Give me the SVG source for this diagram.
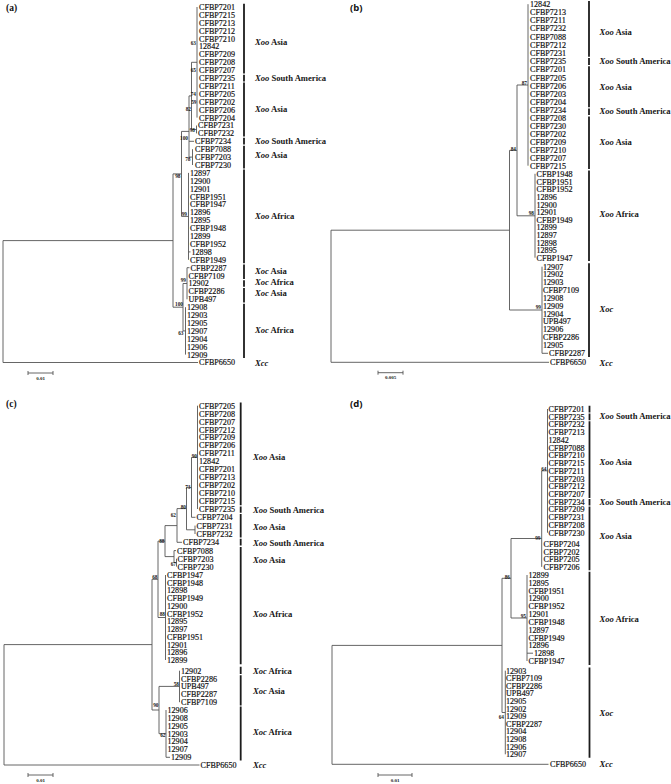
<svg xmlns="http://www.w3.org/2000/svg" width="671" height="784" viewBox="0 0 671 784">
<style>
.t{font-family:"Liberation Serif",serif;font-size:8.1px;fill:#111;stroke:#111;stroke-width:0.18}
.b{font-family:"Liberation Serif",serif;font-size:5.3px;font-weight:bold;fill:#161616;text-anchor:end}
.s{font-family:"Liberation Serif",serif;font-size:8.6px;font-weight:bold;fill:#161616}
.i{font-style:italic}
.l{stroke:#555;stroke-width:0.9;fill:none}
.bar{stroke:#1c1c1c;stroke-width:1.8;fill:none}
.pa{font-family:"Liberation Serif",serif;font-size:9.5px;font-weight:bold;fill:#111}
.pb{font-family:"Open Sans",sans-serif;font-size:9.5px;font-weight:bold;fill:#111}
.sc{font-family:"Liberation Serif",serif;font-size:5px;font-weight:bold;fill:#222;text-anchor:middle}
</style>
<rect width="671" height="784" fill="#fff"/>

<text class="pa" x="6" y="11">(a)</text>
<text class="pb" x="350" y="11">(b)</text>
<text class="pa" x="6" y="407">(c)</text>
<text class="pb" x="350" y="407">(d)</text>

<g id="connectors">
<path class="l" d="M3 240.6V362.5M3 240.6H173M3 362.5H198
M173 173.9V307.2M173 173.9H181.5M181.5 131.4V216.4
M181.5 131.4H189M189 95.9V157.1M189 141.3H194
M189 95.9H191.5M191.5 62.3V129.5M191.5 62.3H197M197 7V117.6M191.5 129.5H196.5M196.5 125.5V133.4
M189 157.1H192.5M192.5 149.2V165
M181.5 216.4H188.5M188.5 172.9V259.8M188.5 251.9H190.5
M173 307.2H183M183 283.5V330.9M183 283.5H187M187 267.7V299.3M187 267.7H189.5M183 330.9H185.5M185.5 307.2V354.6"/>
<path class="l" d="M331 230.2V362.3M331 230.2H509.5M331 362.3H549
M509.5 150.4V310M509.5 150.4H517M517 85V215.8
M517 85H528M528 4.2V165.7
M517 215.8H535M535 173.8V257.7
M509.5 310H542M542 266.7V353.3M542 353.3H548"/>
<path class="l" d="M4 644.6V765M4 644.6H152M4 765H199.5
M152 579.3V710
M152 579.3H158M158 541.1V617.5
M158 541.1H165M165 525.6V556.6
M165 525.6H177M177 508.6V542.3M177 542.3H182
M177 508.6H186.5M186.5 487.4V529.8
M186.5 487.4H191.5M191.5 457.4V517.3M191.5 517.3H195.5
M191.5 457.4H197.5M197.5 405.7V509
M186.5 529.8H195M195 525.6V534
M165 556.6H174M174 550.6V562.6M174 550.6H176M174 562.6H176.5M176.5 558.7V566.6
M158 617.5H165.5M165.5 575V660
M152 710H159M159 686.4V733.7
M159 686.4H179.5M179.5 670.7V702.2
M159 733.7H166M166 710V757.3M166 757.3H170"/>
<path class="l" d="M332 645.4V764.3M332 645.4H502M332 764.3H548.5
M502 578.3V712.5
M502 578.3H511M511 538.5V618
M511 538.5H541.7M541.7 470.8V566.9
M541.7 470.8H547.5M547.5 409V532.7
M511 618H527M527 575V661M527 653.2H533
M502 712.5H505.3M505.3 670.7V754.3"/>
<path class="l" d="M28 373H53M28 371V375M53 371V375
M378 372.7H403M378 370.7V374.7M403 370.7V374.7
M28 775H53M28 773V777M53 773V777
M378 775H412M378 773V777M412 773V777"/>
</g>

<g id="scales">
<text class="sc" x="40.5" y="379.5">0.01</text>
<text class="sc" x="390.5" y="378.5">0.005</text>
<text class="sc" x="40.5" y="781.5">0.01</text>
<text class="sc" x="395" y="781.5">0.01</text>
</g>

<g id="bootstrap">
<text class="b" x="196" y="45.3">63</text>
<text class="b" x="196" y="72">65</text>
<text class="b" x="196" y="96.3">74</text>
<text class="b" x="196.5" y="104.3">59</text>
<text class="b" x="191" y="111">82</text>
<text class="b" x="195" y="132">98</text>
<text class="b" x="188" y="139.7">100</text>
<text class="b" x="190.5" y="161">78</text>
<text class="b" x="180.5" y="177.7">98</text>
<text class="b" x="187" y="216">99</text>
<text class="b" x="186" y="282">99</text>
<text class="b" x="183" y="306">100</text>
<text class="b" x="183.5" y="335">63</text>
<text class="b" x="527" y="85">87</text>
<text class="b" x="516" y="151">84</text>
<text class="b" x="534" y="215">98</text>
<text class="b" x="541" y="309">99</text>
<text class="b" x="197" y="458">90</text>
<text class="b" x="190.5" y="488.7">73</text>
<text class="b" x="186" y="509.3">80</text>
<text class="b" x="176" y="517">62</text>
<text class="b" x="164.5" y="543">88</text>
<text class="b" x="176" y="565.8">67</text>
<text class="b" x="157.5" y="579">68</text>
<text class="b" x="165" y="616">88</text>
<text class="b" x="158.5" y="707">90</text>
<text class="b" x="179" y="686">58</text>
<text class="b" x="165.5" y="737">62</text>
<text class="b" x="546.5" y="471">64</text>
<text class="b" x="540.5" y="539.5">99</text>
<text class="b" x="526" y="617.7">95</text>
<text class="b" x="510" y="579">86</text>
<text class="b" x="504" y="718.7">64</text>
</g>

<g id="a-xoo-asia">
<text class="t" x="199" y="9.9">CFBP7201</text>
<text class="t" x="199" y="17.8">CFBP7215</text>
<text class="t" x="199" y="25.7">CFBP7213</text>
<text class="t" x="199" y="33.6">CFBP7212</text>
<text class="t" x="199" y="41.5">CFBP7210</text>
<text class="t" x="199" y="49.4">12842</text>
<text class="t" x="199" y="57.3">CFBP7209</text>
<text class="t" x="199" y="65.2">CFBP7208</text>
<text class="t" x="199" y="73.1">CFBP7207</text>
<text class="t" x="199" y="81">CFBP7235</text>
<text class="t" x="199" y="88.9">CFBP7211</text>
<text class="t" x="199" y="96.8">CFBP7205</text>
<text class="t" x="199" y="104.7">CFBP7202</text>
<text class="t" x="199" y="112.6">CFBP7206</text>
<text class="t" x="199" y="120.5">CFBP7204</text>
<text class="t" x="198" y="128.4">CFBP7231</text>
<text class="t" x="198" y="136.3">CFBP7232</text>
<text class="t" x="195" y="144.2">CFBP7234</text>
<text class="t" x="195" y="152.1">CFBP7088</text>
<text class="t" x="195" y="160">CFBP7203</text>
<text class="t" x="195" y="167.9">CFBP7230</text>
</g>
<g id="a-xoo-africa">
<text class="t" x="190" y="175.8">12897</text>
<text class="t" x="190" y="183.7">12900</text>
<text class="t" x="190" y="191.6">12901</text>
<text class="t" x="190" y="199.5">CFBP1951</text>
<text class="t" x="190" y="207.4">CFBP1947</text>
<text class="t" x="190" y="215.3">12896</text>
<text class="t" x="190" y="223.2">12895</text>
<text class="t" x="190" y="231.1">CFBP1948</text>
<text class="t" x="190" y="239">12899</text>
<text class="t" x="190" y="246.9">CFBP1952</text>
<text class="t" x="191.5" y="254.8">12898</text>
<text class="t" x="190" y="262.7">CFBP1949</text>
</g>
<g id="a-xoc">
<text class="t" x="190.5" y="270.6">CFBP2287</text>
<text class="t" x="188.5" y="278.5">CFBP7109</text>
<text class="t" x="188.5" y="286.4">12902</text>
<text class="t" x="188.5" y="294.3">CFBP2286</text>
<text class="t" x="188.5" y="302.2">UPB497</text>
<text class="t" x="187" y="310.1">12908</text>
<text class="t" x="187" y="318">12903</text>
<text class="t" x="187" y="325.9">12905</text>
<text class="t" x="187" y="333.8">12907</text>
<text class="t" x="187" y="341.7">12904</text>
<text class="t" x="187" y="349.6">12906</text>
<text class="t" x="187" y="357.5">12909</text>
</g>
<g id="a-xcc"><text class="t" x="199" y="365.4">CFBP6650</text></g>
<g id="a-groups">
<path class="bar" d="M244 3.7V73.6M244 74.8V81.4M244 82.6V136.6M244 137.8V144.6M244 145.8V168.4M244 169.6V263.2M244 264.4V279M244 280.2V286.8M244 288V302.6M244 303.8V358"/>
<text class="s" x="255" y="45"><tspan class="i">Xoo</tspan> Asia</text>
<text class="s" x="255" y="81"><tspan class="i">Xoo</tspan> South America</text>
<text class="s" x="255" y="112"><tspan class="i">Xoo</tspan> Asia</text>
<text class="s" x="255" y="144"><tspan class="i">Xoo</tspan> South America</text>
<text class="s" x="255" y="158"><tspan class="i">Xoo</tspan> Asia</text>
<text class="s" x="255" y="219"><tspan class="i">Xoo</tspan> Africa</text>
<text class="s" x="255" y="274"><tspan class="i">Xoc</tspan> Asia</text>
<text class="s" x="255" y="285"><tspan class="i">Xoc</tspan> Africa</text>
<text class="s" x="255" y="296"><tspan class="i">Xoc</tspan> Asia</text>
<text class="s" x="255" y="333"><tspan class="i">Xoc</tspan> Africa</text>
<text class="s i" x="255" y="366">Xcc</text>
</g>

<g id="b-xoo-asia">
<text class="t" x="530" y="7.1">12842</text>
<text class="t" x="530" y="15.2">CFBP7213</text>
<text class="t" x="530" y="23.2">CFBP7211</text>
<text class="t" x="530" y="31.3">CFBP7232</text>
<text class="t" x="530" y="39.5">CFBP7088</text>
<text class="t" x="530" y="47.7">CFBP7212</text>
<text class="t" x="530" y="55.9">CFBP7231</text>
<text class="t" x="530" y="64.1">CFBP7235</text>
<text class="t" x="530" y="72.3">CFBP7201</text>
<text class="t" x="530" y="80.5">CFBP7205</text>
<text class="t" x="530" y="88.7">CFBP7206</text>
<text class="t" x="530" y="96.9">CFBP7203</text>
<text class="t" x="530" y="105">CFBP7204</text>
<text class="t" x="530" y="113.1">CFBP7234</text>
<text class="t" x="530" y="121.2">CFBP7208</text>
<text class="t" x="530" y="129.2">CFBP7230</text>
<text class="t" x="530" y="137.2">CFBP7202</text>
<text class="t" x="530" y="145.1">CFBP7209</text>
<text class="t" x="530" y="153">CFBP7210</text>
<text class="t" x="530" y="160.8">CFBP7207</text>
<text class="t" x="530" y="168.6">CFBP7215</text>
</g>
<g id="b-xoo-africa">
<text class="t" x="536.5" y="176.7">CFBP1948</text>
<text class="t" x="536.5" y="184.5">CFBP1951</text>
<text class="t" x="536.5" y="192.2">CFBP1952</text>
<text class="t" x="536.5" y="199.8">12896</text>
<text class="t" x="536.5" y="207.5">12900</text>
<text class="t" x="536.5" y="215.2">12901</text>
<text class="t" x="536.5" y="222.8">CFBP1949</text>
<text class="t" x="536.5" y="230.4">12899</text>
<text class="t" x="536.5" y="237.9">12897</text>
<text class="t" x="536.5" y="245.5">12898</text>
<text class="t" x="536.5" y="253">12895</text>
<text class="t" x="536.5" y="260.6">CFBP1947</text>
</g>
<g id="b-xoc">
<text class="t" x="543" y="269.6">12907</text>
<text class="t" x="543" y="277.4">12902</text>
<text class="t" x="543" y="285.2">12903</text>
<text class="t" x="543" y="293">CFBP7109</text>
<text class="t" x="543" y="300.9">12908</text>
<text class="t" x="543" y="308.7">12909</text>
<text class="t" x="543" y="316.5">12904</text>
<text class="t" x="543" y="324.4">UPB497</text>
<text class="t" x="543" y="332.3">12906</text>
<text class="t" x="543" y="340.2">CFBP2286</text>
<text class="t" x="543" y="348.2">12905</text>
<text class="t" x="549" y="356.2">CFBP2287</text>
</g>
<g id="b-xcc"><text class="t" x="550" y="365.2">CFBP6650</text></g>
<g id="b-groups">
<path class="bar" d="M589 1V56.8M589 58V64.9M589 66.2V107.2M589 108.4V115M589 116.4V169M589 170.6V261M589 263.2V357"/>
<text class="s" x="599.5" y="35.3"><tspan class="i">Xoo</tspan> Asia</text>
<text class="s" x="599.5" y="64"><tspan class="i">Xoo</tspan> South America</text>
<text class="s" x="599.5" y="90.3"><tspan class="i">Xoo</tspan> Asia</text>
<text class="s" x="599.5" y="114"><tspan class="i">Xoo</tspan> South America</text>
<text class="s" x="599.5" y="144.7"><tspan class="i">Xoo</tspan> Asia</text>
<text class="s" x="599.5" y="217"><tspan class="i">Xoo</tspan> Africa</text>
<text class="s i" x="599.5" y="312">Xoc</text>
<text class="s i" x="599.5" y="366">Xcc</text>
</g>

<g id="c-xoo-asia">
<text class="t" x="199" y="408.6">CFBP7205</text>
<text class="t" x="199" y="416.6">CFBP7208</text>
<text class="t" x="199" y="424.5">CFBP7207</text>
<text class="t" x="199" y="432.5">CFBP7212</text>
<text class="t" x="199" y="440.4">CFBP7209</text>
<text class="t" x="199" y="448.4">CFBP7206</text>
<text class="t" x="199" y="456.3">CFBP7211</text>
<text class="t" x="199" y="464.3">12842</text>
<text class="t" x="199" y="472.2">CFBP7201</text>
<text class="t" x="199" y="480.2">CFBP7213</text>
<text class="t" x="199" y="488.1">CFBP7202</text>
<text class="t" x="199" y="496.1">CFBP7210</text>
<text class="t" x="199" y="504">CFBP7215</text>
<text class="t" x="199" y="512">CFBP7235</text>
<text class="t" x="196.5" y="520.2">CFBP7204</text>
<text class="t" x="196.5" y="528.5">CFBP7231</text>
<text class="t" x="196.5" y="536.9">CFBP7232</text>
<text class="t" x="183" y="545.2">CFBP7234</text>
<text class="t" x="177" y="553.5">CFBP7088</text>
<text class="t" x="177.5" y="561.6">CFBP7203</text>
<text class="t" x="177.5" y="569.5">CFBP7230</text>
</g>
<g id="c-xoo-africa">
<text class="t" x="167" y="577.9">CFBP1947</text>
<text class="t" x="167" y="585.6">CFBP1948</text>
<text class="t" x="167" y="593.4">12898</text>
<text class="t" x="167" y="601.1">CFBP1949</text>
<text class="t" x="167" y="608.8">12900</text>
<text class="t" x="167" y="616.6">CFBP1952</text>
<text class="t" x="167" y="624.3">12895</text>
<text class="t" x="167" y="632">12897</text>
<text class="t" x="167" y="639.7">CFBP1951</text>
<text class="t" x="167" y="647.5">12901</text>
<text class="t" x="167" y="655.2">12896</text>
<text class="t" x="167" y="662.9">12899</text>
</g>
<g id="c-xoc">
<text class="t" x="181" y="673.6">12902</text>
<text class="t" x="181" y="681.5">CFBP2286</text>
<text class="t" x="181" y="689.3">UPB497</text>
<text class="t" x="181" y="697.2">CFBP2287</text>
<text class="t" x="181" y="705.1">CFBP7109</text>
<text class="t" x="167.5" y="713">12906</text>
<text class="t" x="167.5" y="720.8">12908</text>
<text class="t" x="167.5" y="728.7">12905</text>
<text class="t" x="167.5" y="736.6">12903</text>
<text class="t" x="167.5" y="744.4">12904</text>
<text class="t" x="167.5" y="752.3">12907</text>
<text class="t" x="171" y="760.2">12909</text>
</g>
<g id="c-xcc"><text class="t" x="200.5" y="767.9">CFBP6650</text></g>
<g id="c-groups">
<path class="bar" d="M240.7 402.5V505.2M240.7 506.4V512.8M240.7 514V537.6M240.7 538.8V545.6M240.7 547V664.2M240.7 666.8V674M240.7 675.2V705.4M240.7 706.6V760.6"/>
<text class="s" x="253" y="460"><tspan class="i">Xoo</tspan> Asia</text>
<text class="s" x="253" y="513"><tspan class="i">Xoo</tspan> South America</text>
<text class="s" x="253" y="530"><tspan class="i">Xoo</tspan> Asia</text>
<text class="s" x="253" y="546"><tspan class="i">Xoo</tspan> South America</text>
<text class="s" x="253" y="563"><tspan class="i">Xoo</tspan> Asia</text>
<text class="s" x="253" y="617.3"><tspan class="i">Xoo</tspan> Africa</text>
<text class="s" x="253" y="673.7"><tspan class="i">Xoc</tspan> Africa</text>
<text class="s" x="253" y="693.7"><tspan class="i">Xoc</tspan> Asia</text>
<text class="s" x="253" y="734.7"><tspan class="i">Xoc</tspan> Africa</text>
<text class="s i" x="253" y="768">Xcc</text>
</g>

<g id="d-xoo-asia">
<text class="t" x="548.5" y="411.9">CFBP7201</text>
<text class="t" x="548.5" y="419.6">CFBP7235</text>
<text class="t" x="548.5" y="427.4">CFBP7232</text>
<text class="t" x="548.5" y="435.1">CFBP7213</text>
<text class="t" x="548.5" y="442.8">12842</text>
<text class="t" x="548.5" y="450.6">CFBP7088</text>
<text class="t" x="548.5" y="458.3">CFBP7210</text>
<text class="t" x="548.5" y="466">CFBP7215</text>
<text class="t" x="548.5" y="473.7">CFBP7211</text>
<text class="t" x="548.5" y="481.5">CFBP7203</text>
<text class="t" x="548.5" y="489.2">CFBP7212</text>
<text class="t" x="548.5" y="496.9">CFBP7207</text>
<text class="t" x="548.5" y="504.7">CFBP7234</text>
<text class="t" x="548.5" y="512.4">CFBP7209</text>
<text class="t" x="548.5" y="520.1">CFBP7231</text>
<text class="t" x="548.5" y="527.9">CFBP7208</text>
<text class="t" x="548.5" y="535.6">CFBP7230</text>
<text class="t" x="543.5" y="546.9">CFBP7204</text>
<text class="t" x="543.5" y="554.6">CFBP7202</text>
<text class="t" x="543.5" y="562.2">CFBP7205</text>
<text class="t" x="543.5" y="569.8">CFBP7206</text>
</g>
<g id="d-xoo-africa">
<text class="t" x="528.5" y="577.9">12899</text>
<text class="t" x="528.5" y="585.7">12895</text>
<text class="t" x="528.5" y="593.5">CFBP1951</text>
<text class="t" x="528.5" y="601.4">12900</text>
<text class="t" x="528.5" y="609.2">CFBP1952</text>
<text class="t" x="528.5" y="617">12901</text>
<text class="t" x="528.5" y="624.8">CFBP1948</text>
<text class="t" x="528.5" y="632.6">12897</text>
<text class="t" x="528.5" y="640.5">CFBP1949</text>
<text class="t" x="528.5" y="648.3">12896</text>
<text class="t" x="534" y="656.1">12898</text>
<text class="t" x="528.5" y="663.9">CFBP1947</text>
</g>
<g id="d-xoc">
<text class="t" x="506" y="673.6">12903</text>
<text class="t" x="506" y="681.2">CFBP7109</text>
<text class="t" x="506" y="688.8">CFBP2286</text>
<text class="t" x="506" y="696.4">UPB497</text>
<text class="t" x="506" y="704">12905</text>
<text class="t" x="506" y="711.6">12902</text>
<text class="t" x="506" y="719.2">12909</text>
<text class="t" x="506" y="726.8">CFBP2287</text>
<text class="t" x="506" y="734.4">12904</text>
<text class="t" x="506" y="742">12908</text>
<text class="t" x="506" y="749.6">12906</text>
<text class="t" x="506" y="757.2">12907</text>
</g>
<g id="d-xcc"><text class="t" x="550" y="767.2">CFBP6650</text></g>
<g id="d-groups">
<path class="bar" d="M589.5 405.8V412.4M589.5 413.4V420.3M589.5 421.3V498M589.5 499V505.4M589.5 506.4V570.2M589.5 571.8V665M589.5 667.4V757.8"/>
<text class="s" x="599.5" y="419"><tspan class="i">Xoo</tspan> South America</text>
<text class="s" x="599.5" y="465.3"><tspan class="i">Xoo</tspan> Asia</text>
<text class="s" x="599.5" y="505.3"><tspan class="i">Xoo</tspan> South America</text>
<text class="s" x="599.5" y="538.7"><tspan class="i">Xoo</tspan> Asia</text>
<text class="s" x="599.5" y="622.3"><tspan class="i">Xoo</tspan> Africa</text>
<text class="s i" x="599.5" y="715.7">Xoc</text>
<text class="s i" x="599.5" y="767.3">Xcc</text>
</g>
</svg>
